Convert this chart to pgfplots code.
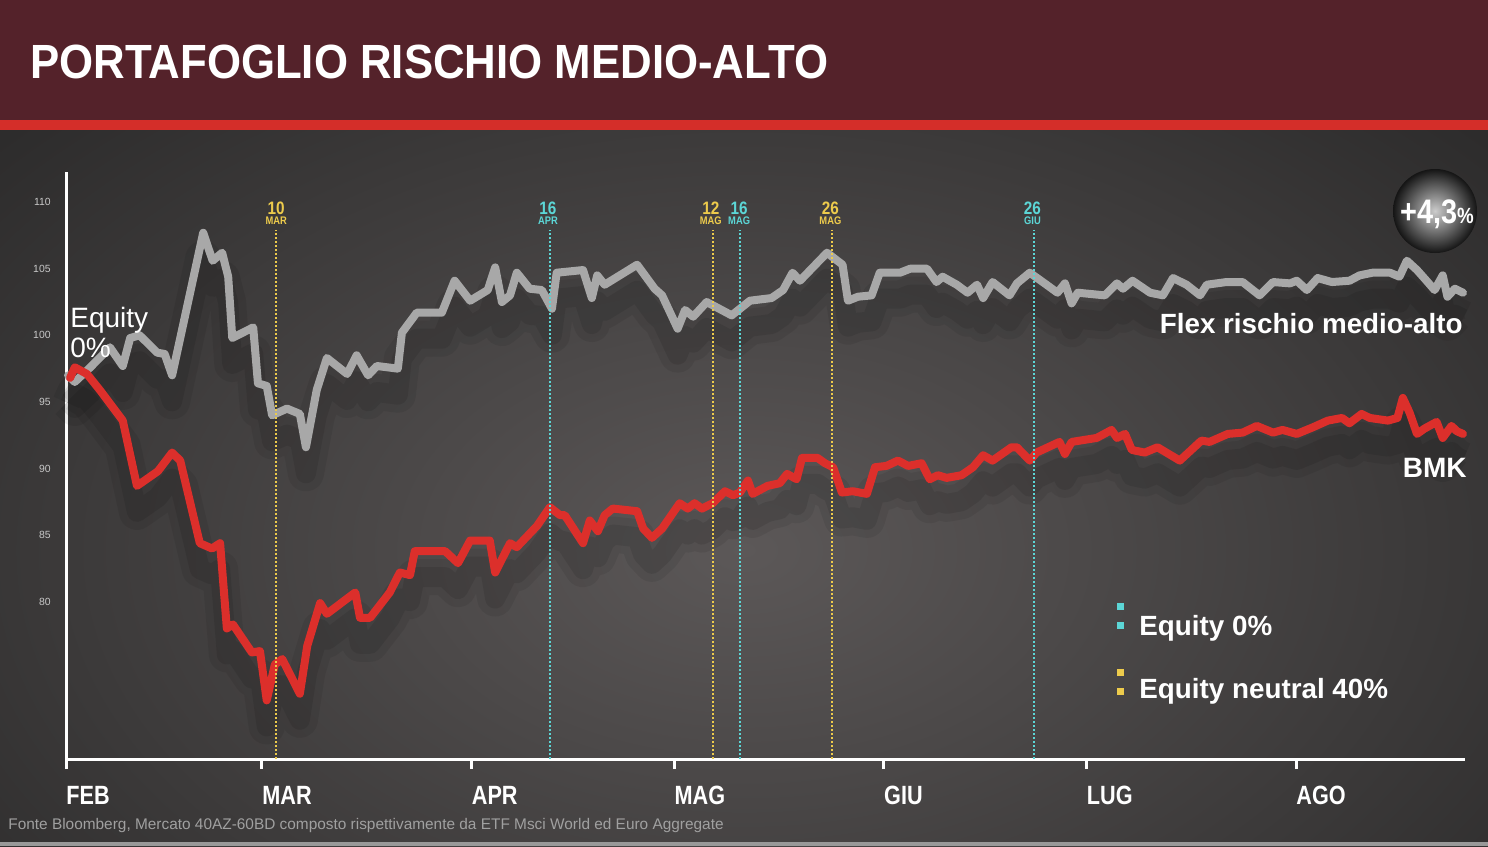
\documentclass[border=0pt]{standalone}
\usepackage{pgfplots}
\pgfplotsset{compat=1.18}
\usepackage{pgfplotstable}
\usepackage{fontspec}
\setmainfont{Liberation Sans}
\newfontfamily\condA[FakeStretch=0.912]{Liberation Sans}
\newfontfamily\condB[FakeStretch=0.82]{Liberation Sans}
\newfontfamily\condC[FakeStretch=0.85]{Liberation Sans}
\definecolor{hdr}{HTML}{54222A}
\definecolor{stripe}{HTML}{D42E29}
\definecolor{bgin}{HTML}{5C5858}
\definecolor{bgout}{HTML}{1C1C1C}
\definecolor{flexc}{HTML}{A8A8A8}
\definecolor{bmkc}{HTML}{DC2F2B}
\definecolor{yel}{HTML}{EDCB4C}
\definecolor{cya}{HTML}{5CD6D6}
\definecolor{ylab}{HTML}{C8C8C8}
\definecolor{foot}{HTML}{A0A0A0}

\pgfplotstableread{
x y
0.3 97.0
1.3 96.5
3.6 97.6
6.5 99.1
8.4 97.7
9.5 99.8
10.9 100.0
13.5 98.7
14.6 98.6
15.7 97.0
20.3 107.7
21.7 105.6
23.1 106.2
24.0 104.4
24.6 99.8
27.7 100.6
28.4 96.4
29.7 96.2
30.5 94.0
32.7 94.5
34.6 94.1
35.5 91.6
37.1 95.9
38.6 98.3
41.6 97.1
43.0 98.5
44.7 97.0
46.0 97.7
49.1 97.5
49.7 100.2
51.9 101.7
55.6 101.7
57.5 104.1
59.8 102.6
62.4 103.4
63.5 105.1
64.5 102.5
65.7 103.0
66.7 104.7
68.6 103.5
70.4 103.4
71.9 102.0
72.6 104.7
76.5 104.9
77.8 102.8
78.6 104.5
79.7 103.8
84.5 105.3
87.1 103.5
88.2 103.0
90.5 100.5
91.6 101.9
92.8 101.4
94.8 102.5
98.5 101.5
101.2 102.6
104.4 102.8
106.1 103.4
107.5 104.7
108.6 104.1
112.6 106.2
114.9 105.3
115.7 102.6
117.2 102.9
119.2 103.0
120.4 104.7
123.4 104.7
124.9 105.0
127.4 105.0
128.8 104.0
129.7 104.4
131.8 103.8
133.4 103.2
134.8 103.8
135.7 102.8
137.1 104.0
139.6 103.0
140.7 103.9
142.6 104.7
144.8 103.9
146.7 103.2
147.8 103.9
148.8 102.4
149.7 103.2
153.7 103.0
155.5 103.9
156.4 103.5
157.8 104.1
160.4 103.2
162.3 103.0
163.8 104.3
165.8 103.8
167.8 103.0
168.8 103.8
171.7 104.0
174.1 104.0
176.6 103.0
178.6 104.0
181.1 103.9
182.1 104.1
183.6 103.4
185.2 104.3
187.3 104.0
189.9 104.1
191.4 104.5
193.3 104.7
195.9 104.7
197.3 104.4
198.4 105.6
199.9 104.9
201.3 104.1
202.5 103.4
203.7 104.5
204.4 102.9
205.5 103.5
206.7 103.2
}\flexdata

\pgfplotstableread{
x y
0.6 96.8
1.3 97.6
3.1 97.1
5.0 95.9
8.4 93.6
10.5 88.7
13.6 89.8
15.7 91.2
16.9 90.6
19.8 84.4
21.6 84.0
22.8 84.4
23.8 78.0
24.7 78.3
27.5 76.2
28.7 76.3
29.7 72.6
30.9 75.3
32.0 75.7
34.6 73.1
35.7 76.7
37.6 79.9
38.6 79.1
42.8 80.7
43.5 78.8
45.0 78.8
47.9 80.7
49.4 82.2
50.9 82.0
51.6 83.8
56.1 83.8
58.0 82.9
59.8 84.6
62.7 84.6
63.5 82.2
65.7 84.4
66.7 84.1
69.7 85.7
71.6 87.1
73.1 86.5
73.8 86.5
76.5 84.4
77.5 86.1
78.7 85.3
79.7 86.5
80.9 87.0
84.5 86.8
85.4 85.5
86.7 84.8
88.2 85.5
90.8 87.4
92.0 87.0
93.0 87.4
94.1 87.0
95.7 87.4
97.5 88.3
98.7 88.0
99.7 88.2
100.9 89.1
101.6 88.1
103.8 88.7
105.6 88.9
106.7 89.6
108.1 89.2
108.9 90.8
111.2 90.8
112.3 90.4
113.5 90.1
114.8 88.2
116.4 88.3
118.5 88.1
119.7 90.1
121.4 90.2
123.1 90.6
124.6 90.2
126.6 90.4
127.8 89.2
129.0 89.5
130.3 89.3
132.5 89.5
134.2 90.1
135.7 91.0
137.1 90.6
139.9 91.6
140.7 91.6
142.6 90.6
143.6 91.2
147.0 92.0
147.8 91.1
148.8 92.0
152.5 92.3
154.7 92.9
155.5 92.3
156.7 92.6
157.7 91.4
159.6 91.2
161.5 91.6
164.8 90.6
168.0 92.1
169.2 92.0
171.9 92.6
174.1 92.7
176.2 93.2
178.6 92.7
180.0 92.9
182.1 92.6
184.5 93.1
186.7 93.6
188.8 93.8
189.9 93.4
191.7 94.1
192.9 93.8
195.6 93.6
197.0 93.8
197.8 95.3
198.8 94.2
199.9 92.6
201.0 93.0
202.8 93.5
203.7 92.3
205.0 93.2
205.8 92.8
206.7 92.6
}\bmkdata

\begin{document}
\begin{tikzpicture}
\begin{scope}[x=0.5pt,y=-0.5pt]
\useasboundingbox (0,0) rectangle (1488,846);
\fill[bgout] (0,0) rectangle (1488,846);
\begin{scope}
\clip (0,130) rectangle (1488,846);
\shade[inner color=bgin, outer color=bgout] (-600,-300) rectangle (2088,1400);
\end{scope}
\fill[hdr] (0,0) rectangle (1488,120);
\fill[stripe] (0,120) rectangle (1488,130);
\node[anchor=base west, inner sep=0pt, text=white, font=\condA\bfseries\fontsize{24}{28}\selectfont] at (30,78) {PORTAFOGLIO RISCHIO MEDIO-ALTO};
\fill[black!40] (0,842) rectangle (1488,846);
\node[anchor=base west, inner sep=0pt, text=foot, font=\fontsize{7.7}{9}\selectfont] at (8,829) {Fonte Bloomberg, Mercato 40AZ-60BD composto rispettivamente da ETF Msci World ed Euro Aggregate};
\end{scope}

\begin{axis}[
  at={(33pt,-379.5pt)}, anchor=south west,
  scale only axis, width=699.5pt, height=293.5pt,
  xmin=0, xmax=207, ymin=68.2, ymax=112.26,
  axis x line=bottom, axis y line=left,
  axis line style={white, line width=1.5pt, -},
  xtick={0,29,60,90,121,151,182},
  xticklabels={FEB,MAR,APR,MAG,GIU,LUG,AGO},
  x tick style={white, line width=1.5pt},
  major tick length=5pt, tick align=outside,
  ytick={80,85,90,95,100,105,110},
  y tick style={draw=none},
  xticklabel style={anchor=north west, inner sep=0pt, yshift=-8.5pt, text=white, font=\condB\bfseries\fontsize{13.2}{15}\selectfont},
  yticklabel style={inner sep=0pt, xshift=-2.5pt, text=ylab, font=\fontsize{5.2}{6}\selectfont},
  /pgf/number format/assume math mode=true,
  clip=false,
]
% shadows
\addplot[black, opacity=0.07, line width=18pt, yshift=-13pt, line join=round] table {\flexdata};
\addplot[black, opacity=0.09, line width=10pt, yshift=-13pt, line join=round] table {\flexdata};
\addplot[black, opacity=0.07, line width=18pt, yshift=-13pt, line join=round] table {\bmkdata};
\addplot[black, opacity=0.09, line width=10pt, yshift=-13pt, line join=round] table {\bmkdata};
% lines
\addplot[flexc, line width=4pt, line join=round, line cap=round] table {\flexdata};
\addplot[bmkc, line width=4pt, line join=round, line cap=round] table {\bmkdata};
% event lines
\addplot[yel, line width=1pt, dash pattern=on 1pt off 1pt] coordinates {(31.1,68.2) (31.1,107.9)};
\addplot[cya, line width=1pt, dash pattern=on 1pt off 1pt] coordinates {(71.6,68.2) (71.6,107.9)};
\addplot[yel, line width=1pt, dash pattern=on 1pt off 1pt] coordinates {(95.7,68.2) (95.7,107.9)};
\addplot[cya, line width=1pt, dash pattern=on 1pt off 1pt] coordinates {(99.7,68.2) (99.7,107.9)};
\addplot[yel, line width=1pt, dash pattern=on 1pt off 1pt] coordinates {(113.3,68.2) (113.3,107.9)};
\addplot[cya, line width=1pt, dash pattern=on 1pt off 1pt] coordinates {(143.2,68.2) (143.2,107.9)};
\foreach \xx/\dd/\mm/\cc in {31.1/10/MAR/yel, 71.3/16/APR/cya, 95.4/12/MAG/yel, 99.6/16/MAG/cya, 113.1/26/MAG/yel, 143.0/26/GIU/cya}{
  \edef\tmp{\noexpand\node[anchor=base, inner sep=0pt, text=\cc, font=\noexpand\condC\noexpand\bfseries\noexpand\fontsize{9}{10}\noexpand\selectfont] at (axis cs:\xx,109.1) {\dd};
  \noexpand\node[anchor=base, inner sep=0pt, text=\cc, font=\noexpand\condC\noexpand\bfseries\noexpand\fontsize{5.5}{6}\noexpand\selectfont] at (axis cs:\xx,108.35) {\mm};}
  \tmp
}
\end{axis}

\begin{scope}[x=0.5pt,y=-0.5pt]
\node[anchor=base west, inner sep=0pt, text=white, font=\fontsize{14}{15}\selectfont] at (70,327) {Equity};
\node[anchor=base west, inner sep=0pt, text=white, font=\fontsize{14}{15}\selectfont] at (70,357) {0\%};
\node[anchor=base east, inner sep=0pt, text=white, font=\bfseries\fontsize{13.9}{15}\selectfont] at (1463,333) {Flex rischio medio-alto};
\node[anchor=base east, inner sep=0pt, text=white, font=\bfseries\fontsize{14}{15}\selectfont] at (1467,477) {BMK};
\fill[cya] (1117,603) rectangle (1124,610);
\fill[cya] (1117,622) rectangle (1124,629);
\fill[yel] (1117,669) rectangle (1124,676);
\fill[yel] (1117,688) rectangle (1124,695);
\node[anchor=base west, inner sep=0pt, text=white, font=\bfseries\fontsize{13.9}{15}\selectfont] at (1139,635) {Equity 0\%};
\node[anchor=base west, inner sep=0pt, text=white, font=\bfseries\fontsize{13.9}{15}\selectfont] at (1139,698) {Equity neutral 40\%};
\shade[inner color=white!80!black, outer color=black!92] (1435,211) circle (42);
\node[anchor=base, inner sep=0pt, text=white, font=\condC\bfseries\fontsize{17}{18}\selectfont] at (1437,223) {+4,3{\fontsize{11}{12}\selectfont\%}};
\end{scope}
\end{tikzpicture}
\end{document}
